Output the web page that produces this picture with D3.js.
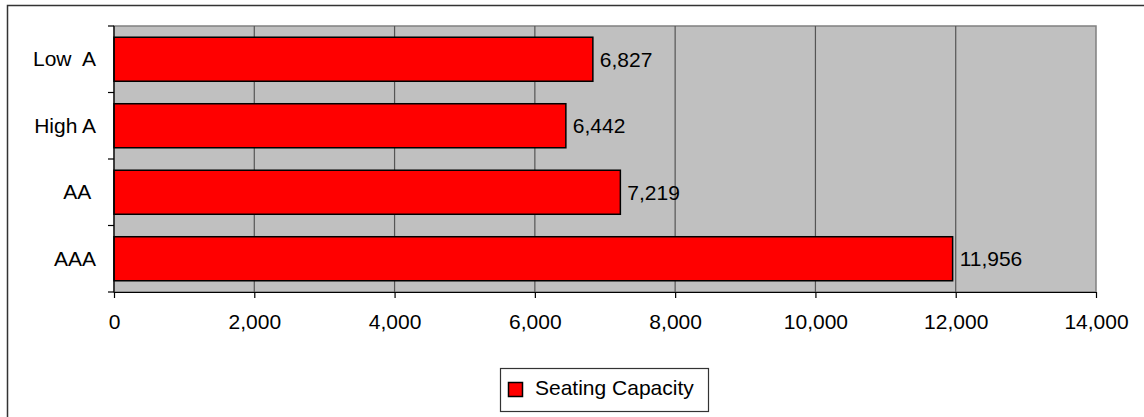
<!DOCTYPE html>
<html>
<head>
<meta charset="utf-8">
<script src="https://cdn.jsdelivr.net/npm/d3@7"></script>
<style>
  html, body { margin: 0; padding: 0; background: #fff; }
  svg { display: block; }
  text { font-family: "Liberation Sans", Arial, sans-serif; font-size: 21px; fill: #000; }
</style>
</head>
<body>
<svg id="chart" width="1144" height="417"></svg>
<script>
const categories = ["Low  A", "High A", "AA ", "AAA"];
const seatingCapacity = [6827, 6442, 7219, 11956];
const xTicks = [0, 2000, 4000, 6000, 8000, 10000, 12000, 14000];
const seriesName = "Seating Capacity";

const svg = d3.select("#chart");
const W = 1144, H = 417;
const plot = { left: 114, top: 26, right: 1096, bottom: 292 };

// outer chart border
svg.append("rect")
  .attr("x", 7.5).attr("y", 5.5)
  .attr("width", 1160).attr("height", 430)
  .attr("fill", "#fff").attr("stroke", "#333").attr("stroke-width", 1.5);

const x = d3.scaleLinear().domain([0, 14000]).range([plot.left, plot.right]);
const y = d3.scaleBand().domain(categories).range([plot.top, plot.bottom])
  .paddingInner(0.338).paddingOuter(0.169);

// plot background
svg.append("rect")
  .attr("x", plot.left).attr("y", plot.top)
  .attr("width", plot.right - plot.left).attr("height", plot.bottom - plot.top)
  .attr("fill", "#C0C0C0").attr("stroke", "#808080").attr("stroke-width", 1.5);

// gridlines
svg.append("g").selectAll("line")
  .data(xTicks.filter(t => t > 0 && t < 14000))
  .join("line")
  .attr("x1", d => x(d)).attr("x2", d => x(d))
  .attr("y1", plot.top).attr("y2", plot.bottom)
  .attr("stroke", "#555").attr("stroke-width", 1.2);

// bars
const data = categories.map((c, i) => ({ c, v: seatingCapacity[i] }));
svg.append("g").selectAll("rect")
  .data(data)
  .join("rect")
  .attr("x", x(0))
  .attr("y", d => y(d.c))
  .attr("width", d => x(d.v) - x(0))
  .attr("height", y.bandwidth())
  .attr("fill", "#FF0000").attr("stroke", "#000").attr("stroke-width", 1.5);

// value labels
svg.append("g").selectAll("text")
  .data(data)
  .join("text")
  .attr("x", d => x(d.v) + 7)
  .attr("y", d => y(d.c) + y.bandwidth() / 2)
  .attr("dy", "0.36em")
  .text(d => d3.format(",")(d.v));

// x axis
const xAxis = svg.append("g")
  .attr("transform", `translate(0,${plot.bottom})`)
  .call(d3.axisBottom(x).tickValues(xTicks).tickFormat(d3.format(",")).tickSize(6).tickSizeOuter(0));
xAxis.select(".domain").attr("stroke", "#000").attr("stroke-width", 1.2);
xAxis.selectAll(".tick line").attr("stroke", "#000").attr("stroke-width", 1.2);
xAxis.selectAll(".tick text")
  .attr("y", 22).attr("dy", "0.71em")
  .style("font-family", "'Liberation Sans', Arial, sans-serif")
  .style("font-size", "21px").attr("fill", "#000");

// y axis (custom: ticks at band boundaries)
const half = y.step() * y.paddingInner() / 2;
const boundaries = categories.map(c => y(c) - half).concat([y(categories[categories.length - 1]) + y.bandwidth() + half]);
const yAxis = svg.append("g");
yAxis.append("line")
  .attr("x1", plot.left).attr("x2", plot.left)
  .attr("y1", plot.top).attr("y2", plot.bottom)
  .attr("stroke", "#000").attr("stroke-width", 1.2);
yAxis.selectAll("line.tick")
  .data(boundaries)
  .join("line").attr("class", "tick")
  .attr("x1", plot.left - 6).attr("x2", plot.left)
  .attr("y1", d => d).attr("y2", d => d)
  .attr("stroke", "#000").attr("stroke-width", 1.2);
yAxis.selectAll("text")
  .data(categories)
  .join("text")
  .attr("x", 96)
  .attr("y", d => y(d) + y.bandwidth() / 2)
  .attr("dy", "0.33em")
  .attr("text-anchor", "end")
  .attr("xml:space", "preserve")
  .style("white-space", "pre")
  .text(d => d);

// legend
const lg = svg.append("g");
lg.append("rect")
  .attr("x", 500.5).attr("y", 368.5).attr("width", 208).attr("height", 43)
  .attr("fill", "#fff").attr("stroke", "#333").attr("stroke-width", 1.2);
lg.append("rect")
  .attr("x", 508.5).attr("y", 382.5).attr("width", 14).attr("height", 14)
  .attr("fill", "#FF0000").attr("stroke", "#000").attr("stroke-width", 1.5);
lg.append("text")
  .attr("x", 535).attr("y", 394.5)
  .text(seriesName);
</script>
</body>
</html>
